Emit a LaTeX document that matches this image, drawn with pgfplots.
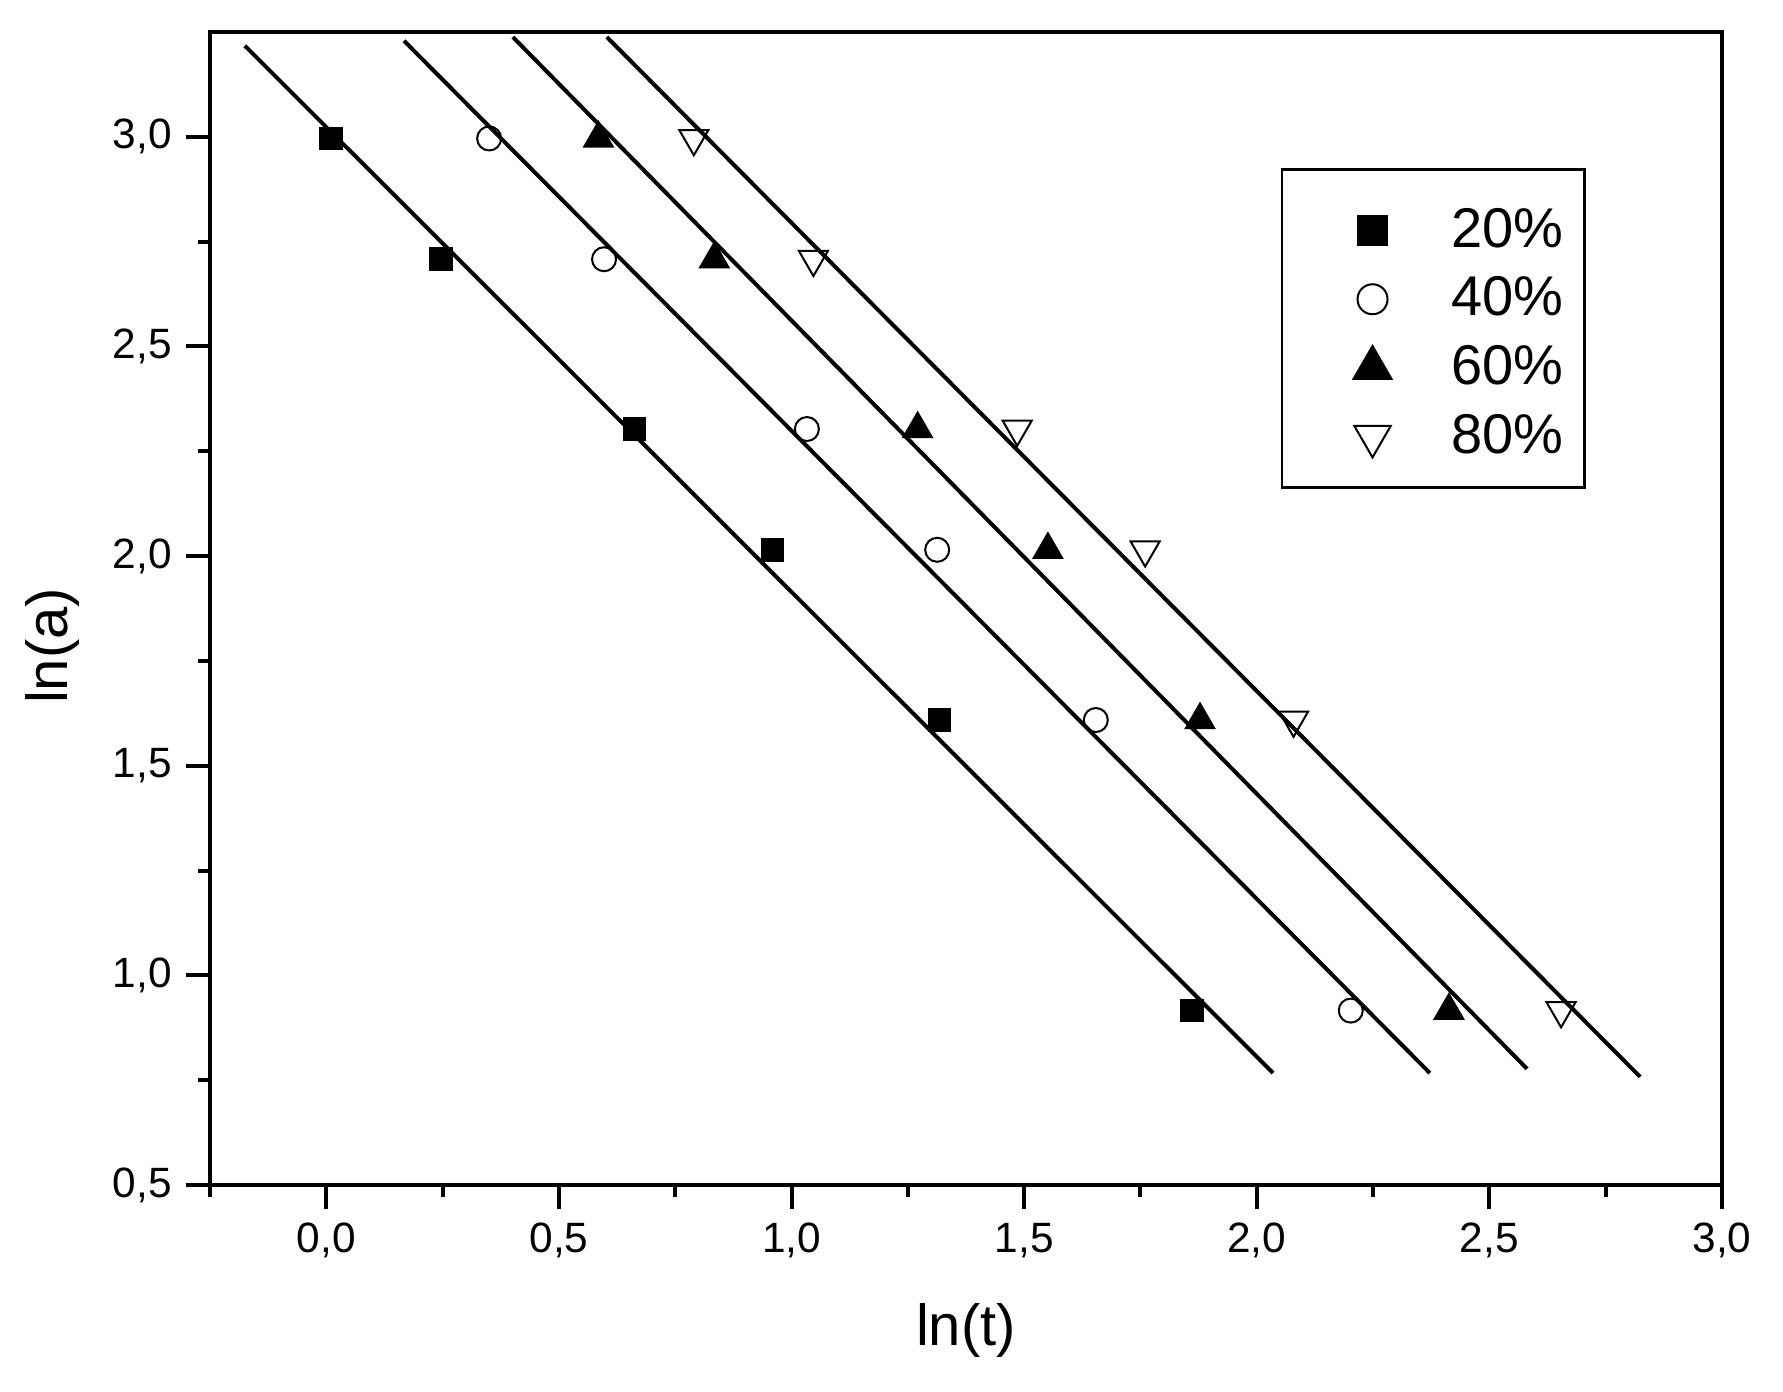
\documentclass[border=0pt]{standalone}
\usepackage{fontspec}
\setmainfont{Liberation Sans}
\usepackage{pgfplots}
\pgfplotsset{compat=1.18}
\begin{document}
\begin{tikzpicture}
\begin{axis}[
  at={(0,0)}, anchor=south west,
  scale only axis, width=378pt, height=288.25pt,
  xmin=-0.25, xmax=3.0, ymin=0.5, ymax=3.25,
  axis line style={line width=1pt},
  xtick={0,0.5,1,1.5,2,2.5,3},
  ytick={0.5,1,1.5,2,2.5,3},
  minor xtick={-0.25,0.25,0.75,1.25,1.75,2.25,2.75},
  minor ytick={0.75,1.25,1.75,2.25,2.75},
  tick align=outside, tick pos=left,
  major tick length=6pt, minor tick length=3pt,
  every tick/.style={black, line width=1pt},
  /pgf/number format/.cd, fixed, fixed zerofill, precision=1, use comma, assume math mode=true, /pgfplots/.cd,
  tick label style={font=\fontsize{10.6}{12}\selectfont},
  label style={font=\fontsize{14.5}{16}\selectfont},
  xlabel={ln(t)}, ylabel={ln(a)},
  xlabel style={yshift=-4.5pt},
  ylabel style={at={(ticklabel cs:0.4675)}, yshift=1.5pt},
  legend cell align=left,
  legend style={at={(axis cs:2.051,2.925)}, anchor=north west, draw=black, line width=0.7pt,
    fill=white, font=\fontsize{14}{16}\selectfont, inner xsep=5.15pt, inner ysep=6.7pt,
    row sep=2.6pt, column sep=0pt, nodes={inner sep=0pt}},
  legend image code/.code={\path (-17.15pt,-5.65pt) (19.4pt,8.2pt);\draw[#1, every mark/.append style={scale=1.25}] plot coordinates {(0pt,0pt)};},
]
\addplot[only marks, mark=square*, mark size=2.75pt, black] coordinates {
  (0.010,2.996) (0.247,2.708) (0.662,2.303) (0.959,2.015) (1.318,1.609) (1.861,0.916)};
\addlegendentry{20\%}
\addplot[only marks, mark=o, mark size=3pt, black, mark options={line width=0.5pt}] coordinates {
  (0.350,2.996) (0.597,2.708) (1.033,2.303) (1.313,2.015) (1.654,1.609) (2.202,0.916)};
\addlegendentry{40\%}
\addplot[only marks, mark=triangle*, mark size=4.2pt, black] coordinates {
  (0.585,2.996) (0.834,2.708) (1.271,2.303) (1.551,2.015) (1.878,1.609) (2.413,0.916)};
\addlegendentry{60\%}
\addplot[only marks, mark=triangle, mark size=4.2pt, black, mark options={rotate=180, line width=0.5pt}] coordinates {
  (0.790,2.996) (1.047,2.708) (1.485,2.303) (1.760,2.015) (2.079,1.609) (2.654,0.916)};
\addlegendentry{80\%}
\addplot[black, line width=1pt, forget plot] coordinates {(-0.175,3.217) (2.035,0.767)};
\addplot[black, line width=1pt, forget plot] coordinates {(0.167,3.229) (2.372,0.767)};
\addplot[black, line width=1pt, forget plot] coordinates {(0.401,3.238) (2.581,0.777)};
\addplot[black, line width=1pt, forget plot] coordinates {(0.603,3.238) (2.824,0.758)};
\end{axis}
\pgfresetboundingbox
\path (-52.5pt,-51.5pt) rectangle (393.25pt,296.25pt);
\end{tikzpicture}
\end{document}
